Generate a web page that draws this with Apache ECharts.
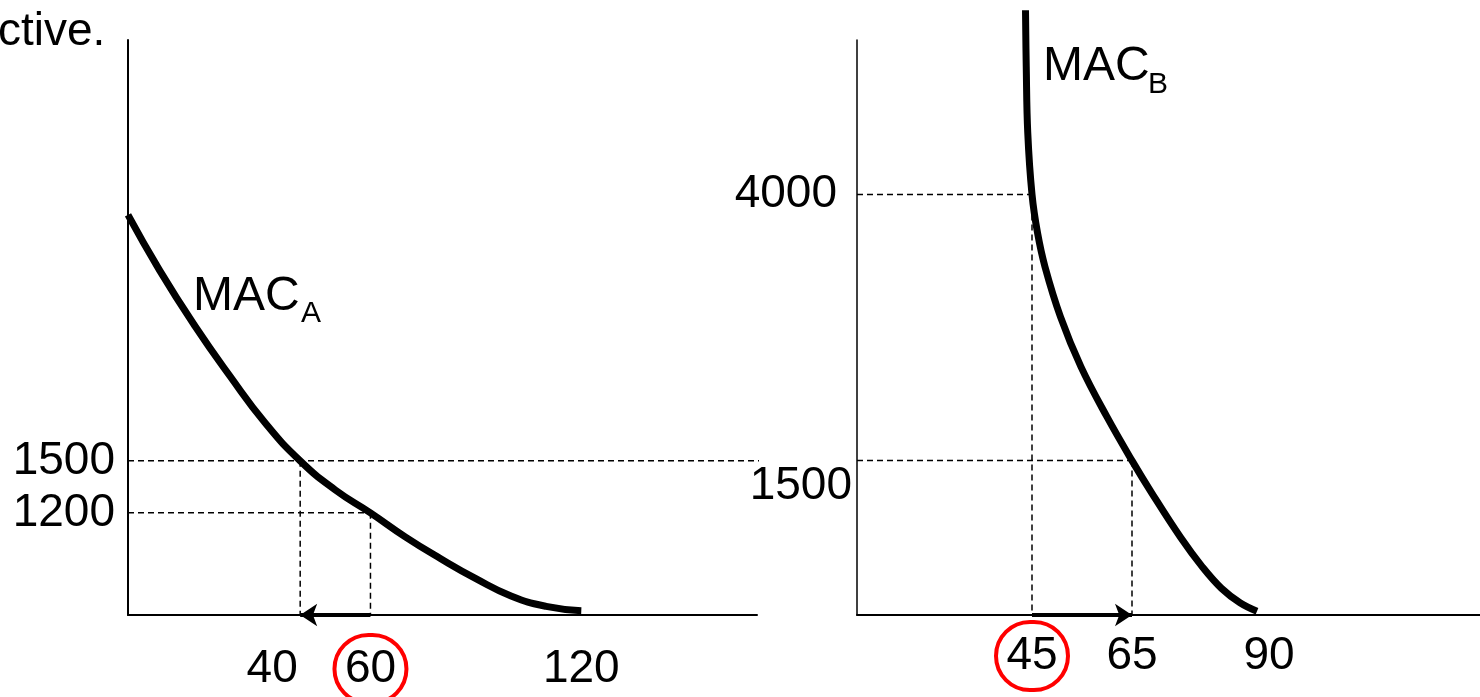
<!DOCTYPE html>
<html>
<head>
<meta charset="utf-8">
<script src="https://cdn.jsdelivr.net/npm/echarts@6/dist/echarts.min.js"></script>
<style>
html,body{margin:0;padding:0;background:#fff;}
#c{width:1480px;height:697px;}
</style>
</head>
<body>
<div id="c"></div>
<script>
// ---- data ----
// Firm A marginal abatement cost curve
const macA_x = [-9, 0, 10, 20, 30, 40, 50, 60, 70, 80, 90, 100, 110, 120];
const macA_y = [2920, 2600, 2280, 1990, 1720, 1500, 1332, 1200, 1060, 935, 820, 720, 660, 635];
// Firm B marginal abatement cost curve
const macB_x = [43.7, 43.85, 44.15, 45, 46.1, 47.6, 50.7, 54.8, 60, 65, 68.9, 74.7, 79.1, 82.9, 86.6, 90];
const macB_y = [5730, 5200, 4580, 4000, 3640, 3320, 2850, 2380, 1910, 1500, 1200, 780, 500, 300, 165, 85];
// tick labels
const ticksA_x = [40, 60, 120];
const ticksA_y = [1500, 1200];
const ticksB_x = [45, 65, 90];
const ticksB_y = [4000, 1500];
const circledA = [60];
const circledB = [45];
// axis ranges
const rangeA_x = [-9, 170];
const rangeA_y = [610, 3930];
const rangeB_x = [10, 134.6];
const rangeB_y = [50, 5450];
// reference levels
const price = 1500;          // common price level
const priceA2 = 1200;        // A's second level
const qA = [40, 60];         // A: 40 -> 60 (arrow 60 -> 40)
const priceB2 = 4000;
const qB = [45, 65];         // B: 45 -> 65

const FONT = '"Liberation Sans", Arial, sans-serif';
const zip = (xs, ys) => xs.map((x, i) => [x, ys[i]]);

const chart = echarts.init(document.getElementById('c'), null, {renderer: 'canvas'});

// label nudges (styling only): horizontal shift in px per tick value
const labelShift = {40: -28, 90: 12};

const baseTok = {width: 44, height: 68, lineHeight: 68, align: 'center', fontSize: 46, fontFamily: FONT, color: '#000'};
function xLabel(ticks, circled, margin) {
  return {
    customValues: ticks,
    margin: margin, interval: 0, hideOverlap: false,
    formatter: v => circled.includes(v) ? '{c|' + v + '}' : '{n|' + v + '}',
    rich: {
      n: Object.assign({}, baseTok),
      c: Object.assign({}, baseTok, {width: 72, borderColor: '#f00', borderWidth: 4, borderRadius: 36})
    }
  };
}
function shiftedAxis(gridIndex, range, ticks, margin) {
  const vals = ticks.filter(v => labelShift[v]);
  const s0 = vals.length ? labelShift[vals[0]] : 0;
  return {type: 'value', gridIndex: gridIndex, position: 'bottom', min: range[0], max: range[1],
    axisLine: {show: false}, axisTick: {show: false}, splitLine: {show: false},
    axisLabel: {
      customValues: vals, margin: margin, interval: 0, hideOverlap: false,
      formatter: v => '{' + ((labelShift[v] || 0) < 0 ? 'l' : 'r') + '|' + v + '}',
      rich: {
        l: Object.assign({}, baseTok, {padding: [0, Math.max(0, -2 * s0), 0, 0]}),
        r: Object.assign({}, baseTok, {padding: [0, 0, 0, Math.max(0, 2 * s0)]})
      }
    }};
}

const dash = {color: '#000', width: 1.5, type: [6, 4]};
function guide(id, xi, pts, clip) {
  return {
    id: id, type: 'line', xAxisIndex: xi, yAxisIndex: xi, data: pts,
    symbol: 'none', silent: true, clip: clip !== false, lineStyle: dash, z: 1,
    animation: false
  };
}

const option = {
  animation: false,
  backgroundColor: '#fff',
  grid: [
    {left: 128, top: 40, width: 629, bottom: 82, containLabel: false, outerBoundsMode: 'none'},
    {left: 857, top: 40, right: 0, bottom: 82, containLabel: false, outerBoundsMode: 'none'}
  ],
  xAxis: [
    {type: 'value', gridIndex: 0, position: 'bottom', min: rangeA_x[0], max: rangeA_x[1],
     axisLine: {show: true, onZero: false, lineStyle: {color: '#000', width: 2}},
     axisTick: {show: false}, splitLine: {show: false},
     axisLabel: xLabel(ticksA_x.filter(v => !labelShift[v]), circledA, 20)},
    {type: 'value', gridIndex: 1, position: 'bottom', min: rangeB_x[0], max: rangeB_x[1],
     axisLine: {show: true, onZero: false, lineStyle: {color: '#000', width: 2}},
     axisTick: {show: false}, splitLine: {show: false},
     axisLabel: xLabel(ticksB_x.filter(v => !labelShift[v]), circledB, 7)},
    shiftedAxis(0, rangeA_x, ticksA_x, 20),
    shiftedAxis(1, rangeB_x, ticksB_x, 7)
  ],
  yAxis: [
    {type: 'value', gridIndex: 0, min: rangeA_y[0], max: rangeA_y[1],
     axisLine: {show: true, onZero: false, lineStyle: {color: '#000', width: 2}},
     axisTick: {show: false}, splitLine: {show: false},
     axisLabel: {customValues: ticksA_y, margin: 13, fontSize: 46, fontFamily: FONT, color: '#000',
       interval: 0, hideOverlap: false, formatter: v => String(v)}},
    {type: 'value', gridIndex: 1, min: rangeB_y[0], max: rangeB_y[1],
     axisLine: {show: true, onZero: false, lineStyle: {color: '#000', width: 1.5}},
     axisTick: {show: false}, splitLine: {show: false},
     axisLabel: {customValues: ticksB_y, margin: 5, interval: 0, hideOverlap: false,
       formatter: v => v === price ? '{low|' + v + '}' : '{hi|' + v + '}',
       rich: {
         low: {fontSize: 46, fontFamily: FONT, color: '#000', padding: [52, 0, 0, 0]},
         hi: {fontSize: 46, fontFamily: FONT, color: '#000', padding: [0, 15, 0, 0]}
       }}}
  ],
  graphic: [
    {type: 'text', left: -2, top: 9, style: {text: 'ctive.', font: '46px ' + FONT, fill: '#000'}},
    {type: 'text', left: 193, top: 273, style: {text: 'MAC', font: '48px ' + FONT, fill: '#000'}},
    {type: 'text', left: 301, top: 299, style: {text: 'A', font: '30px ' + FONT, fill: '#000'}},
    {type: 'text', left: 1043, top: 43, style: {text: 'MAC', font: '48px ' + FONT, fill: '#000'}},
    {type: 'text', left: 1148, top: 70, style: {text: 'B', font: '30px ' + FONT, fill: '#000'}}
  ],
  series: [
    guide('a-price', 0, [[rangeA_x[0], price], [rangeA_x[1], price]], false),
    guide('a-p2', 0, [[rangeA_x[0], priceA2], [qA[1], priceA2]]),
    guide('a-v1', 0, [[qA[0], price], [qA[0], rangeA_y[0]]]),
    guide('a-v2', 0, [[qA[1], priceA2], [qA[1], rangeA_y[0]]]),
    guide('b-price', 1, [[rangeB_x[0], price], [qB[1], price]]),
    guide('b-p2', 1, [[rangeB_x[0], priceB2], [qB[0], priceB2]]),
    guide('b-v1', 1, [[qB[0], priceB2], [qB[0], rangeB_y[0]]]),
    guide('b-v2', 1, [[qB[1], price], [qB[1], rangeB_y[0]]]),
    {
      id: 'macA', name: 'MAC_A', type: 'line', xAxisIndex: 0, yAxisIndex: 0,
      data: zip(macA_x, macA_y), smooth: 0.5, symbol: 'none',
      lineStyle: {color: '#000', width: 7}, z: 3, silent: true,
      markLine: {
        silent: true, symbol: ['none', 'arrow'], symbolSize: 17, label: {show: false},
        lineStyle: {color: '#000', width: 4, type: 'solid'},
        data: [[{coord: [qA[1], rangeA_y[0]]}, {coord: [qA[0], rangeA_y[0]]}]]
      }
    },
    {
      id: 'macB', name: 'MAC_B', type: 'line', xAxisIndex: 1, yAxisIndex: 1,
      data: zip(macB_x, macB_y), smooth: 0.4, symbol: 'none', clip: false,
      lineStyle: {color: '#000', width: 7}, z: 3, silent: true,
      markLine: {
        silent: true, symbol: ['none', 'arrow'], symbolSize: 17, label: {show: false},
        lineStyle: {color: '#000', width: 4, type: 'solid'},
        data: [[{coord: [qB[0], rangeB_y[0]]}, {coord: [qB[1], rangeB_y[0]]}]]
      }
    }
  ]
};
chart.setOption(option);

// extend the common price line across the gap up to panel B's vertical axis
const pxB = chart.convertToPixel({xAxisIndex: 1}, rangeB_x[0]);
const xExt = chart.convertFromPixel({xAxisIndex: 0}, pxB);
chart.setOption({series: [{id: 'a-price', data: [[rangeA_x[0], price], [xExt, price]]}]});
</script>
</body>
</html>
